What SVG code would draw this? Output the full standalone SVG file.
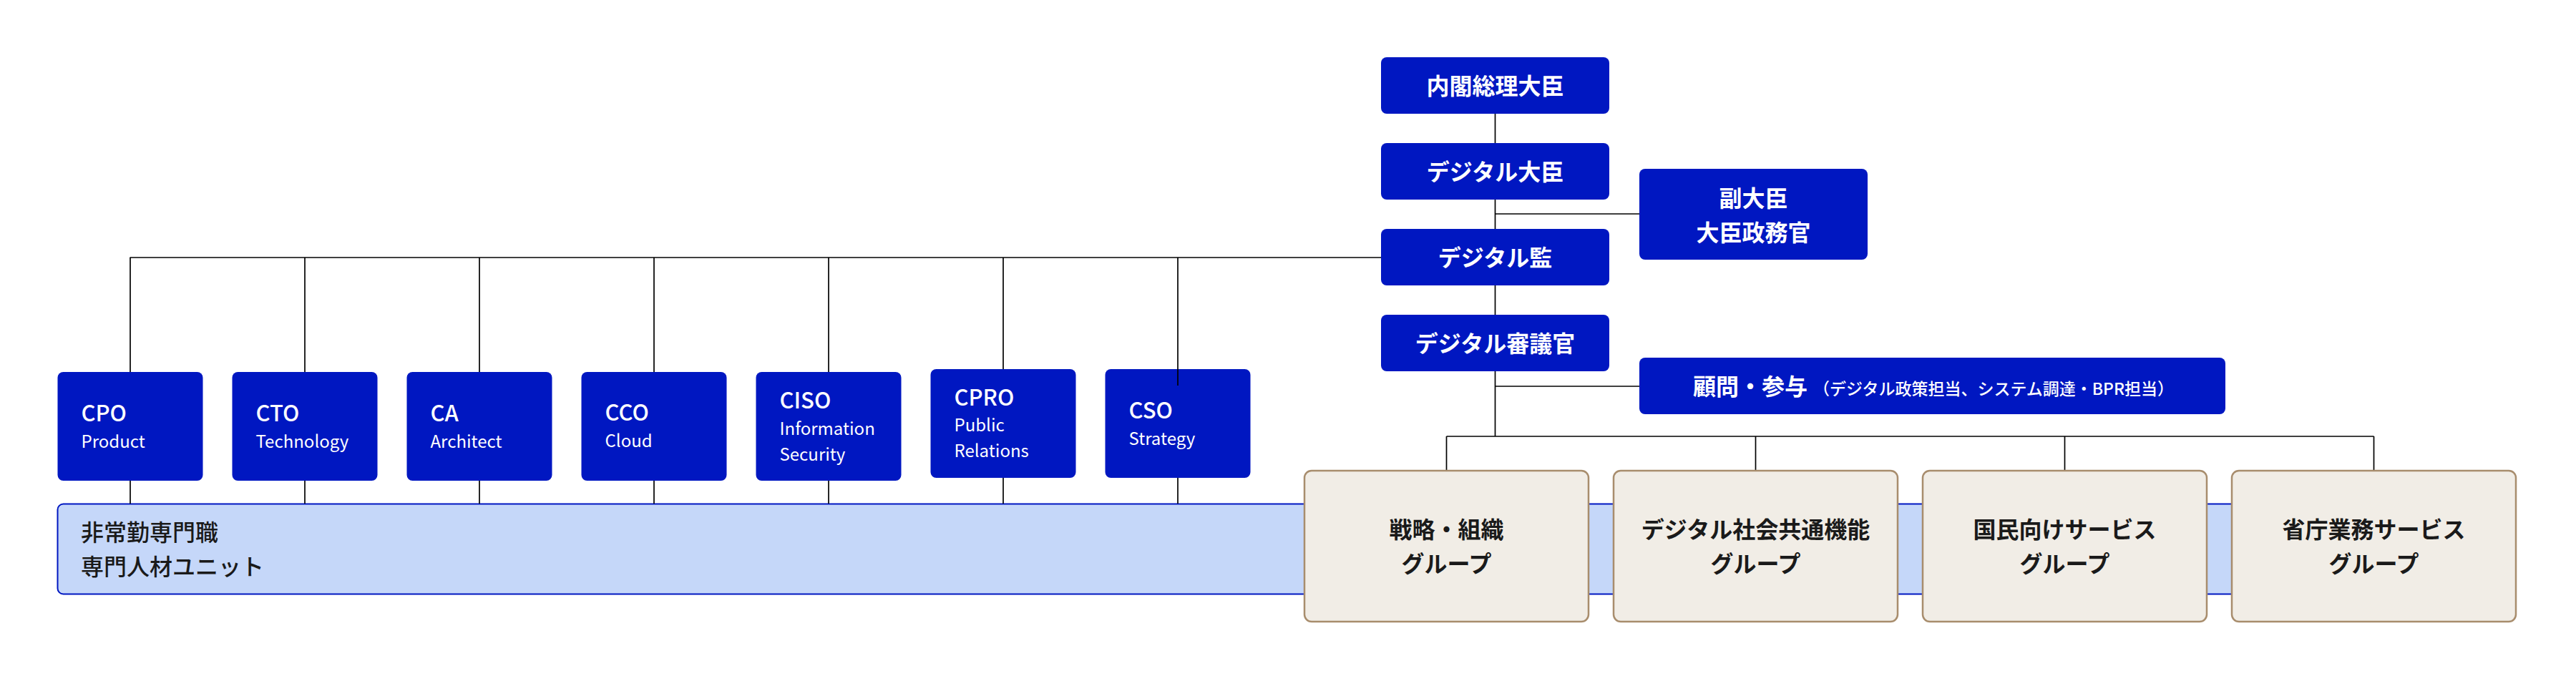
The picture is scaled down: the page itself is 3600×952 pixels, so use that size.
<svg xmlns="http://www.w3.org/2000/svg" width="3600" height="952" viewBox="0 0 3600 952">
<style>
text{font-family:"Noto Sans CJK JP","Noto Sans",sans-serif}
.bb{fill:#0017c1}
.wt{fill:#fff;font-size:32px;font-weight:700;text-anchor:middle}
.sm{font-size:23px;font-weight:500}
.ab{fill:#fff;font-size:31px;font-weight:500}
.as{fill:#fff;font-size:24px;font-weight:400}
.gb{fill:#f1ede6;stroke:#a88d6d;stroke-width:2.5}
.gt{fill:#1a1a1a;font-size:32px;font-weight:700;text-anchor:middle}
.ln{stroke:#000;stroke-width:1.7;fill:none}
</style>
<rect width="3600" height="952" fill="#fff"/>
<g id="unit">
<rect x="80.5" y="704.5" width="3060" height="126" rx="8" fill="#c5d7f9" stroke="#0017c1" stroke-width="2"/>
<text x="113" y="756" font-size="32" fill="#1a1a1a" font-weight="500">非常勤専門職</text>
<text x="113" y="804" font-size="32" fill="#1a1a1a" font-weight="500">専門人材ユニット</text>
</g>
<g id="connectors">
<line class="ln" x1="2089.5" y1="159" x2="2089.5" y2="200"/>
<line class="ln" x1="2089.5" y1="279" x2="2089.5" y2="320"/>
<line class="ln" x1="2089.5" y1="399" x2="2089.5" y2="440"/>
<line class="ln" x1="2089.5" y1="519" x2="2089.5" y2="610"/>
<line class="ln" x1="2089.5" y1="299" x2="2291" y2="299"/>
<line class="ln" x1="2089.5" y1="540" x2="2291" y2="540"/>
<line class="ln" x1="181.5" y1="360" x2="1930" y2="360"/>
<line class="ln" x1="2021.5" y1="610" x2="3317.5" y2="610" stroke-width="2.2"/>
<line class="ln" x1="2021.5" y1="610" x2="2021.5" y2="658"/>
<line class="ln" x1="2453.5" y1="610" x2="2453.5" y2="658"/>
<line class="ln" x1="2885.5" y1="610" x2="2885.5" y2="658"/>
<line class="ln" x1="3317.5" y1="610" x2="3317.5" y2="658"/>
<line class="ln" x1="182" y1="360" x2="182" y2="520"/>
<line class="ln" x1="426" y1="360" x2="426" y2="520"/>
<line class="ln" x1="670" y1="360" x2="670" y2="520"/>
<line class="ln" x1="914" y1="360" x2="914" y2="520"/>
<line class="ln" x1="1158" y1="360" x2="1158" y2="520"/>
<line class="ln" x1="1402" y1="360" x2="1402" y2="516"/>
<line class="ln" x1="182" y1="672" x2="182" y2="704"/>
<line class="ln" x1="426" y1="672" x2="426" y2="704"/>
<line class="ln" x1="670" y1="672" x2="670" y2="704"/>
<line class="ln" x1="914" y1="672" x2="914" y2="704"/>
<line class="ln" x1="1158" y1="672" x2="1158" y2="704"/>
<line class="ln" x1="1402" y1="668" x2="1402" y2="704"/>
<line class="ln" x1="1646" y1="668" x2="1646" y2="704"/>
</g>
<g id="pm"><rect class="bb" x="1930" y="80" width="319" height="79" rx="8"/><text class="wt" x="2089.5" y="132">内閣総理大臣</text></g>
<g id="dm"><rect class="bb" x="1930" y="200" width="319" height="79" rx="8"/><text class="wt" x="2089.5" y="252">デジタル大臣</text></g>
<g id="dk"><rect class="bb" x="1930" y="320" width="319" height="79" rx="8"/><text class="wt" x="2089.5" y="372">デジタル監</text></g>
<g id="ds"><rect class="bb" x="1930" y="440" width="319" height="79" rx="8"/><text class="wt" x="2089.5" y="492">デジタル審議官</text></g>
<g id="vice"><rect class="bb" x="2291" y="236" width="319" height="127" rx="8"/><text class="wt" x="2450.5" y="289">副大臣</text><text class="wt" x="2450.5" y="337">大臣政務官</text></g>
<g id="adv"><rect class="bb" x="2291" y="500" width="819" height="79" rx="8"/><text class="wt" x="2702" y="552">顧問・参与<tspan class="sm" dx="8">（デジタル政策担当、システム調達・BPR担当）</tspan></text></g>
<g id="cpo"><rect class="bb" x="80.5" y="520" width="203" height="152" rx="8"/><text class="ab" x="113.5" y="589">CPO</text><text class="as" x="113.5" y="626">Product</text></g>
<g id="cto"><rect class="bb" x="324.5" y="520" width="203" height="152" rx="8"/><text class="ab" x="357.5" y="589">CTO</text><text class="as" x="357.5" y="626">Technology</text></g>
<g id="ca"><rect class="bb" x="568.5" y="520" width="203" height="152" rx="8"/><text class="ab" x="601.5" y="589">CA</text><text class="as" x="601.5" y="626">Architect</text></g>
<g id="cco"><rect class="bb" x="812.5" y="520" width="203" height="152" rx="8"/><text class="ab" x="845.5" y="588">CCO</text><text class="as" x="845.5" y="625">Cloud</text></g>
<g id="ciso"><rect class="bb" x="1056.5" y="520" width="203" height="152" rx="8"/><text class="ab" x="1089.5" y="571">CISO</text><text class="as" x="1089.5" y="608">Information</text><text class="as" x="1089.5" y="644">Security</text></g>
<g id="cpro"><rect class="bb" x="1300.5" y="516" width="203" height="152" rx="8"/><text class="ab" x="1333.5" y="567">CPRO</text><text class="as" x="1333.5" y="603">Public</text><text class="as" x="1333.5" y="639">Relations</text></g>
<g id="cso"><rect class="bb" x="1544.5" y="516" width="203" height="152" rx="8"/><text class="ab" x="1577.5" y="585">CSO</text><text class="as" x="1577.5" y="622">Strategy</text></g>
<line class="ln" x1="1646" y1="360" x2="1646" y2="539"/>
<g id="g1"><rect class="gb" x="1823" y="658" width="397" height="211" rx="10"/><text class="gt" x="2021.5" y="752">戦略・組織</text><text class="gt" x="2021.5" y="800">グループ</text></g>
<g id="g2"><rect class="gb" x="2255" y="658" width="397" height="211" rx="10"/><text class="gt" x="2453.5" y="752">デジタル社会共通機能</text><text class="gt" x="2453.5" y="800">グループ</text></g>
<g id="g3"><rect class="gb" x="2687" y="658" width="397" height="211" rx="10"/><text class="gt" x="2885.5" y="752">国民向けサービス</text><text class="gt" x="2885.5" y="800">グループ</text></g>
<g id="g4"><rect class="gb" x="3119" y="658" width="397" height="211" rx="10"/><text class="gt" x="3317.5" y="752">省庁業務サービス</text><text class="gt" x="3317.5" y="800">グループ</text></g>
</svg>
